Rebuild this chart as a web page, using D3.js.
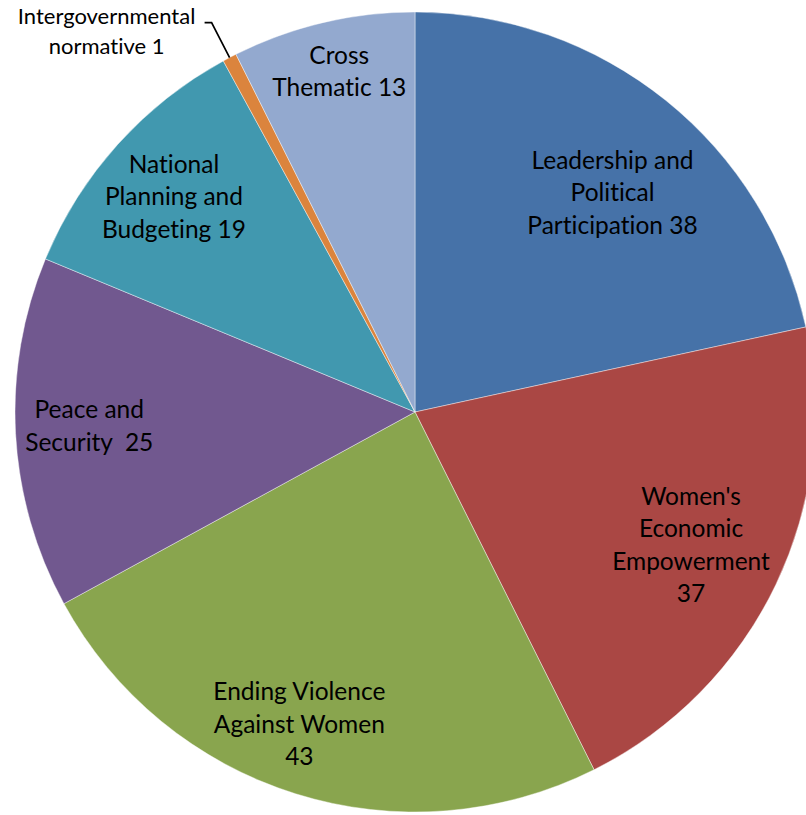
<!DOCTYPE html>
<html>
<head>
<meta charset="utf-8">
<script src="https://cdn.jsdelivr.net/npm/d3@7"></script>
<style>
  html, body { margin: 0; padding: 0; background: #fff; }
  svg { display: block; }
  text { font-family: Lato, "Open Sans", sans-serif; fill: #000; font-variant-ligatures: none; font-feature-settings: "liga" 0, "clig" 0; }
</style>
</head>
<body>
<svg id="chart" width="806" height="815"></svg>
<script>
// ---- data ----
const categories = [
  "Leadership and Political Participation",
  "Women's Economic Empowerment",
  "Ending Violence Against Women",
  "Peace and Security",
  "National Planning and Budgeting",
  "Intergovernmental normative",
  "Cross Thematic"
];
const values = [38, 37, 43, 25, 19, 1, 13];
const labelLines = [
  ["Leadership and", "Political", "Participation 38"],
  ["Women's", "Economic", "Empowerment", "37"],
  ["Ending Violence", "Against Women", "43"],
  ["Peace and", "Security  25"],
  ["National", "Planning and", "Budgeting 19"],
  ["Intergovernmental", "normative 1"],
  ["Cross", "Thematic 13"]
];
const colors = ["#4672A8", "#AA4744", "#89A54E", "#71588F", "#4198AF", "#DB843D", "#93A9CF"];

// ---- layout (label placement, not data) ----
const cx = 415, cy = 412, R = 400;
const labelRadiusFrac = [0.74, 0.765, 0.83, 0.815, 0.81, null, 0.875];
const labelAngleNudge = [3, 0, 3, 0.8, 0, 0, 0.8]; // degrees
const lineHeight = 32.5;

const svg = d3.select("#chart");
const g = svg.append("g").attr("transform", `translate(${cx},${cy})`);

const pie = d3.pie().sort(null).value(d => d);
const arcs = pie(values);
const arc = d3.arc().innerRadius(0).outerRadius(R);
const color = d3.scaleOrdinal().domain(d3.range(values.length)).range(colors);

g.selectAll("path.slice")
  .data(arcs)
  .enter().append("path")
  .attr("class", "slice")
  .attr("d", arc)
  .attr("fill", (d, i) => color(i))
  .attr("stroke", "#ffffff")
  .attr("stroke-opacity", 0.6)
  .attr("stroke-width", 0.7);

// inside labels
arcs.forEach((d, i) => {
  if (labelRadiusFrac[i] == null) return;
  const a = (d.startAngle + d.endAngle) / 2 + labelAngleNudge[i] * Math.PI / 180;
  const r = R * labelRadiusFrac[i];
  const x = r * Math.sin(a), y = -r * Math.cos(a);
  const lines = labelLines[i];
  const t = g.append("text")
    .attr("text-anchor", "middle")
    .attr("font-size", 24.5)
    .style("white-space", "pre");
  lines.forEach((ln, k) => {
    t.append("tspan")
      .attr("x", x)
      .attr("y", y + (k - (lines.length - 1) / 2) * lineHeight)
      .attr("dominant-baseline", "central")
      .text(ln);
  });
});

// outside label with leader line (small slice)
(function () {
  const i = 5, d = arcs[i];
  const a = (d.startAngle + d.endAngle) / 2;
  const ex = R * Math.sin(a), ey = -R * Math.cos(a);
  const elbow = [ex - 18, ey - 35];
  const endp = [elbow[0] - 7, elbow[1]];
  g.append("path")
    .attr("d", d3.line()([[ex, ey], elbow, endp]))
    .attr("fill", "none")
    .attr("stroke", "#000")
    .attr("stroke-width", 1.7);
  const lines = labelLines[i];
  const tx = endp[0] - 98;
  const t = g.append("text")
    .attr("text-anchor", "middle")
    .attr("font-size", 22);
  lines.forEach((ln, k) => {
    t.append("tspan")
      .attr("x", tx)
      .attr("y", endp[1] - 7 + k * 30)
      .attr("dominant-baseline", "central")
      .text(ln);
  });
})();
</script>
</body>
</html>
